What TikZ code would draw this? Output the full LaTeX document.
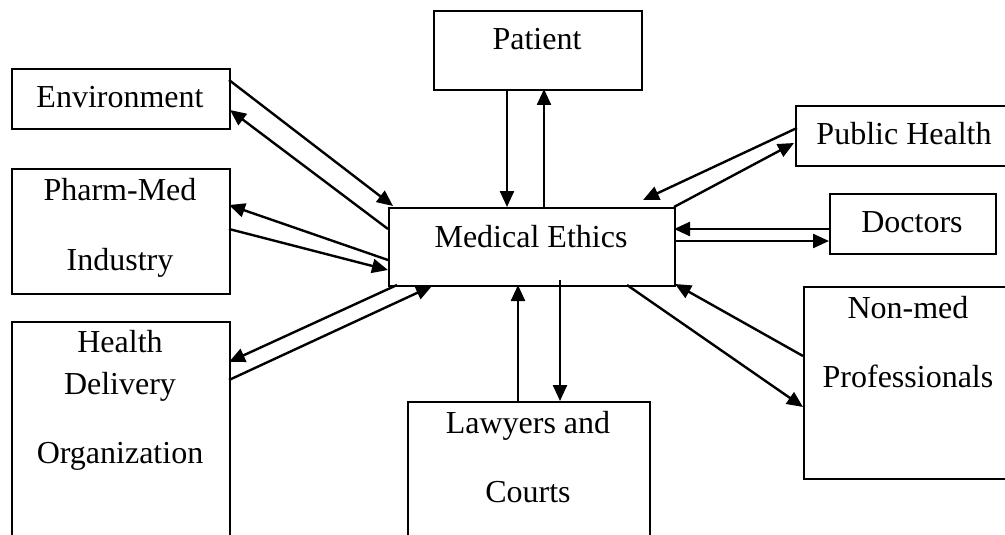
\documentclass[tikz,border=0pt]{standalone}
\usepackage{fontspec}
\setmainfont{Liberation Serif}
\usetikzlibrary{arrows.meta}
\tikzset{
  box/.style={draw=black, line width=1.8pt, inner sep=0pt, anchor=north west, fill=none},
  txt/.style={anchor=base, inner sep=0pt, font=\fontsize{32}{38}\selectfont},
  arr/.style={line width=2.4pt, -{Triangle[length=16pt,width=14pt]}}
}
\begin{document}
\begin{tikzpicture}[x=1pt,y=-1pt]
\useasboundingbox (0,0) rectangle (1005,535);
% boxes
\node[box, minimum width=208pt, minimum height=79pt]  (pat)   at (433,10)  {};
\node[box, minimum width=218pt, minimum height=60pt]  (env)   at (11,68)   {};
\node[box, minimum width=218pt, minimum height=125pt] (pharm) at (11,168)  {};
\node[box, minimum width=218pt, minimum height=230pt] (hd)    at (11,321)  {};
\node[box, minimum width=286pt, minimum height=78pt]  (me)    at (388,207) {};
\node[box, minimum width=220pt, minimum height=60pt]  (ph)    at (795,105) {};
\node[box, minimum width=166pt, minimum height=60pt]  (doc)   at (829,193) {};
\node[box, minimum width=215pt, minimum height=192pt] (nm)    at (803,286) {};
\node[box, minimum width=242pt, minimum height=150pt] (law)   at (407,401) {};
% texts
\node[txt] (patt)  at (537,50)  {Patient};
\node[txt] (envt)  at (120,107) {Environment};
\node[txt] (phat1) at (120,200) {Pharm-Med};
\node[txt] (phat2) at (120,270) {Industry};
\node[txt] (hdt1)  at (120,352) {Health};
\node[txt] (hdt2)  at (120,394) {Delivery};
\node[txt] (hdt3)  at (120,463) {Organization};
\node[txt] (met)   at (531,247) {Medical Ethics};
\node[txt] (pht)   at (904,144) {Public Health};
\node[txt] (doct)  at (912,232) {Doctors};
\node[txt] (nmt1)  at (908,318) {Non-med};
\node[txt] (nmt2)  at (908,387) {Professionals};
\node[txt] (lawt1) at (528,433) {Lawyers and};
\node[txt] (lawt2) at (528,502) {Courts};
% connector end points
\coordinate (envA)  at (229,80);   \coordinate (meEnvA) at (393,206);
\coordinate (meEnvB) at (388,229); \coordinate (envB)   at (230,110);
\coordinate (mePhB) at (388,260);  \coordinate (pharmB) at (229,205);
\coordinate (pharmA) at (229,229); \coordinate (mePhA)  at (388,270);
\coordinate (meHdB) at (397,285);  \coordinate (hdB)    at (229,362);
\coordinate (hdA)   at (229,380);  \coordinate (meHdA)  at (432,286);
\coordinate (patA)  at (507,89);   \coordinate (mePatA) at (507,207);
\coordinate (mePatB) at (544,207); \coordinate (patB)   at (544,89);
\coordinate (phA)   at (797,128);  \coordinate (mePhlA) at (643,200);
\coordinate (mePhlB) at (674,207); \coordinate (phB)    at (794,143);
\coordinate (docA)  at (829,229);  \coordinate (meDocA) at (674,229);
\coordinate (meDocB) at (674,241); \coordinate (docB)   at (829,241);
\coordinate (nmA)   at (803,356);  \coordinate (meNmA)  at (675,284);
\coordinate (meNmB) at (627,285);  \coordinate (nmB)    at (803,407);
\coordinate (lawA)  at (518,401);  \coordinate (meLawA) at (518,285);
\coordinate (meLawB) at (560,280); \coordinate (lawB)   at (560,401);
% connectors
\draw[arr] (envA) -- (meEnvA);
\draw[arr] (meEnvB) -- (envB);
\draw[arr] (mePhB) -- (pharmB);
\draw[arr] (pharmA) -- (mePhA);
\draw[arr] (meHdB) -- (hdB);
\draw[arr] (hdA) -- (meHdA);
\draw[arr] (patA) -- (mePatA);
\draw[arr] (mePatB) -- (patB);
\draw[arr] (phA) -- (mePhlA);
\draw[arr] (mePhlB) -- (phB);
\draw[arr] (docA) -- (meDocA);
\draw[arr] (meDocB) -- (docB);
\draw[arr] (nmA) -- (meNmA);
\draw[arr] (meNmB) -- (nmB);
\draw[arr] (lawA) -- (meLawA);
\draw[arr] (meLawB) -- (lawB);
\end{tikzpicture}
\end{document}
